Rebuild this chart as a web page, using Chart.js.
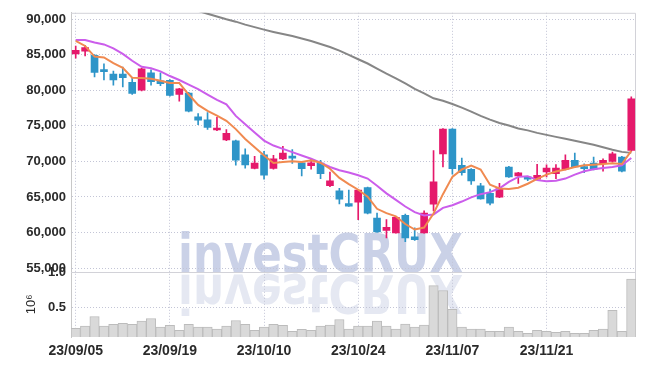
<!DOCTYPE html>
<html>
<head>
<meta charset="utf-8">
<script src="https://cdn.jsdelivr.net/npm/chart.js@4.4.0/dist/chart.umd.min.js"></script>
<style>
  html, body { margin: 0; padding: 0; background: #fff; }
  #wrap { width: 645px; height: 366px; }
</style>
</head>
<body>
<div id="wrap"><canvas id="myChart" width="645" height="366"></canvas></div>
<script>
var dates = ['23/09/05','23/09/06','23/09/07','23/09/08','23/09/11','23/09/12','23/09/13','23/09/14','23/09/15','23/09/18',
             '23/09/19','23/09/20','23/09/21','23/09/22','23/09/25','23/09/26','23/09/27','23/10/04','23/10/05','23/10/06',
             '23/10/10','23/10/11','23/10/12','23/10/13','23/10/16','23/10/17','23/10/18','23/10/19','23/10/20','23/10/23',
             '23/10/24','23/10/25','23/10/26','23/10/27','23/10/30','23/10/31','23/11/01','23/11/02','23/11/03','23/11/06',
             '23/11/07','23/11/08','23/11/09','23/11/10','23/11/13','23/11/14','23/11/15','23/11/16','23/11/17','23/11/20',
             '23/11/21','23/11/22','23/11/23','23/11/24','23/11/27','23/11/28','23/11/29','23/11/30','23/12/01','23/12/04'];
var tickDates = ['23/09/05', '23/09/19', '23/10/10', '23/10/24', '23/11/07', '23/11/21'];

var opens  = [85100,85500,84900,82700,82250,82250,81100,80000,82450,81300,
              81400,79400,79600,76250,75830,74400,73000,72900,70900,69000,
              70900,69000,70350,70600,69800,69400,69750,66570,65870,64070,
              64250,66300,62030,60280,59950,62400,59400,59950,63970,71050,
              74530,69440,68890,66570,65500,64950,69200,67960,67820,67500,
              68510,68280,68890,70140,69200,69760,69670,70000,70600,71530];
var highs  = [86200,86300,85000,83700,82700,83250,81800,83100,82850,82450,
              81500,80250,79700,76700,76850,76200,74450,73000,71750,70700,
              71400,70830,72100,71670,69850,70350,70150,68500,66200,65970,
              66050,66400,62720,61800,62200,62580,60650,63050,71530,74600,
              74600,70450,69000,66900,66100,66900,69300,68450,67900,69580,
              69500,69530,70900,71150,69650,70600,70350,71300,70700,79070];
var lows   = [84500,84800,81850,81450,80700,80450,79400,79900,80700,80650,
              79150,78470,76950,75150,74500,74300,72900,69450,69050,68950,
              67500,68900,70250,69720,67950,68900,67580,66430,64030,63650,
              61800,62600,60000,59250,59900,58700,58900,59900,63050,69200,
              68200,68050,66750,64700,63890,64900,67750,66900,67300,67400,
              67820,67580,68800,69100,68400,68800,68610,69900,68500,71400];
var closes = [85600,86000,82500,82600,81450,81750,79550,83000,81200,80900,
              79250,80200,77050,75800,74760,74600,73950,70150,69500,69750,
              68050,70350,71150,70450,68970,69800,68280,67260,64670,63700,
              65970,62720,60080,60740,62120,59250,59000,62720,67120,74530,
              68970,68420,67260,64720,64110,66190,67820,68370,67500,68050,
              69070,69070,70140,69200,68970,68890,70140,71050,68610,78790];
// volume in millions of shares
var volumes = [0.196,0.229,0.367,0.229,0.253,0.267,0.253,0.300,0.338,0.214,
               0.238,0.167,0.253,0.214,0.214,0.186,0.229,0.310,0.253,0.167,
               0.214,0.253,0.238,0.153,0.181,0.167,0.229,0.243,0.324,0.186,
               0.229,0.229,0.300,0.229,0.186,0.257,0.214,0.243,0.814,0.743,
               0.471,0.214,0.186,0.186,0.153,0.153,0.214,0.153,0.124,0.167,
               0.153,0.138,0.153,0.124,0.124,0.167,0.186,0.457,0.153,0.910];
var ma5  = [86940,86220,84720,84600,83790,83140,81750,81710,81600,81330,
            81010,81010,79390,77930,77080,76430,75690,74530,73140,71990,
            70830,69760,69900,70000,69900,70140,69800,68970,67680,66800,
            66010,65040,63330,62720,62260,61190,60420,60700,62680,65390,
            67820,68860,69400,68860,66710,66190,66110,66290,66850,67540,
            68140,68570,68860,69210,69440,69530,69620,69720,69620,71460];
var ma20 = [87060,87060,86710,86430,85880,85110,84140,83280,83070,82640,
            81990,81430,80780,80140,79390,78650,78000,76390,75220,74070,
            72920,72220,71750,71290,70830,70360,69800,69210,68750,68420,
            68050,67580,66570,65500,64580,63650,62860,62400,62540,63470,
            63830,64350,64930,65390,65670,66220,67120,67820,67920,67360,
            67220,67260,67580,68140,68610,68890,69070,69210,69440,70460];
var ma60 = [null,null,null,null,null,null,null,null,null,null,
            null,null,null,91150,90740,90360,89970,89630,89210,88860,
            88510,88190,87890,87610,87260,86920,86500,86060,85560,84970,
            84350,83750,83030,82330,81670,80940,80180,79560,78860,78510,
            78060,77540,76990,76390,75870,75390,75040,74620,74350,74000,
            73720,73440,73170,72890,72610,72330,71990,71640,71330,71190];

var priceTicks = [55000, 60000, 65000, 70000, 75000, 80000, 85000, 90000];
var volumeTicks = [0.5, 1.0];

var upColor = '#e5196b';
var downColor = '#2e95c8';
var gridColor = '#c3c5d6';

var bodies = opens.map(function (o, i) { return [o, closes[i]]; });
var wicks = lows.map(function (l, i) { return [l, highs[i]]; });
var candleColors = closes.map(function (c, i) { return c >= opens[i] ? upColor : downColor; });

var watermark = {
    id: 'watermark',
    beforeDraw: function (chart) {
        var ctx = chart.ctx;
        var text = 'investCRUX';
        ctx.save();
        ctx.font = 'bold 53px "DejaVu Sans", sans-serif';
        ctx.textBaseline = 'alphabetic';
        var sx = 285 / ctx.measureText(text).width;
        ctx.save();
        ctx.translate(178, 272);
        ctx.scale(sx, 1);
        ctx.fillStyle = '#cad1e7';
        ctx.fillText(text, 0, 0);
        ctx.restore();
        ctx.translate(178, 275);
        ctx.scale(sx, -1);
        ctx.fillStyle = '#e5e8f2';
        ctx.fillText(text, 0, 0);
        ctx.restore();
    }
};

var frame = {
    id: 'frame',
    beforeDatasetsDraw: function (chart) {
        var ctx = chart.ctx;
        var a = chart.chartArea;
        var sep = chart.scales.yv.top;
        ctx.save();
        ctx.strokeStyle = '#d2d2d8';
        ctx.lineWidth = 1;
        ctx.beginPath();
        ctx.moveTo(a.left, a.top + 0.5);
        ctx.lineTo(a.right - 0.5, a.top + 0.5);
        ctx.lineTo(a.right - 0.5, a.bottom);
        ctx.moveTo(a.left, Math.round(sep) + 0.5);
        ctx.lineTo(a.right, Math.round(sep) + 0.5);
        ctx.stroke();
        ctx.restore();
    }
};

document.addEventListener("DOMContentLoaded", function () {
    Chart.defaults.font.family = '"Liberation Sans", Arial, sans-serif';
    Chart.defaults.color = '#2a2a2a';
    var ctx = document.getElementById('myChart').getContext('2d');
    var myChart = new Chart(ctx, {
        type: 'bar',
        data: {
            labels: dates,
            datasets: [{
                type: 'line', data: ma5, yAxisID: 'y', order: 1,
                borderColor: '#f08a50', borderWidth: 2, pointRadius: 0, tension: 0
            },
            {
                type: 'line', data: ma20, yAxisID: 'y', order: 2,
                borderColor: '#cb5deb', borderWidth: 2, pointRadius: 0, tension: 0
            },
            {
                type: 'line', data: ma60, yAxisID: 'y', order: 3,
                borderColor: '#868686', borderWidth: 2, pointRadius: 0, tension: 0
            },
            {
                data: bodies, yAxisID: 'y', order: 5, grouped: false,
                backgroundColor: candleColors, barThickness: 7, minBarLength: 2
            },
            {
                data: wicks, yAxisID: 'y', order: 6, grouped: false,
                backgroundColor: candleColors, barThickness: 1
            },
            {
                data: volumes, yAxisID: 'yv', order: 10, grouped: false,
                backgroundColor: '#d9d9d9', borderColor: '#bcbcbc', borderWidth: 1,
                barPercentage: 1, categoryPercentage: 1
            }]
        },
        options: {
            responsive: false,
            animation: false,
            devicePixelRatio: 1,
            layout: { padding: { top: 9, right: 9, bottom: 0, left: 0 } },
            plugins: { legend: { display: false }, tooltip: { enabled: false } },
            scales: {
                x: {
                    offset: true,
                    grid: {
                        offset: false, drawTicks: false,
                        color: function (c) {
                            return tickDates.indexOf(dates[c.index]) >= 0 ? gridColor : 'rgba(0,0,0,0)';
                        }
                    },
                    border: { display: false, dash: [1, 2] },
                    ticks: {
                        autoSkip: false, maxRotation: 0, padding: 6,
                        font: { size: 14, weight: 'bold' },
                        callback: function (v, i) {
                            return tickDates.indexOf(dates[i]) >= 0 ? dates[i] : '';
                        }
                    },
                    afterFit: function (s) { s.height = 29; }
                },
                y: {
                    position: 'left', stack: 'panes', stackWeight: 262, weight: 2,
                    min: 54483, max: 90875,
                    afterBuildTicks: function (s) {
                        s.ticks = priceTicks.map(function (v) { return { value: v }; });
                    },
                    grid: { drawTicks: false, color: gridColor },
                    border: { color: '#c8c8c8', dash: [1, 2] },
                    ticks: {
                        padding: 5, font: { size: 13, weight: 'bold' },
                        callback: function (v) { return v.toLocaleString('en-US'); }
                    },
                    afterFit: function (s) { s.width = 71; }
                },
                yv: {
                    position: 'left', stack: 'panes', stackWeight: 66, weight: 1,
                    min: 0.071, max: 1.014,
                    afterBuildTicks: function (s) {
                        s.ticks = volumeTicks.map(function (v) { return { value: v }; });
                    },
                    grid: { drawTicks: false, color: gridColor },
                    border: { color: '#c8c8c8', dash: [1, 2] },
                    title: { display: true, text: '10\u2076', font: { size: 13 }, padding: { top: 24, bottom: 0 } },
                    ticks: {
                        padding: 5, font: { size: 13, weight: 'bold' },
                        callback: function (v) { return v.toFixed(1); }
                    },
                    afterFit: function (s) { s.width = 71; }
                }
            }
        },
        plugins: [watermark, frame]
    });
});
</script>
</body>
</html>
